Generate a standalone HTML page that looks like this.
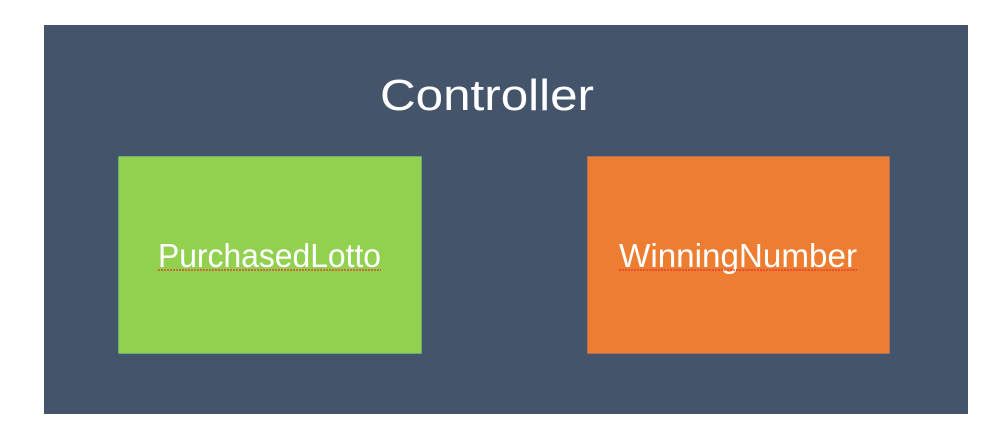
<!DOCTYPE html>
<html><head><meta charset="utf-8"><style>html,body{margin:0;padding:0;background:#fff;}svg{display:block}</style></head>
<body>
<svg width="1002" height="443" xmlns="http://www.w3.org/2000/svg" font-family="Liberation Sans, sans-serif">
<rect x="0" y="0" width="1002" height="443" fill="#fff"/>
<rect x="44" y="25" width="924" height="389" fill="#44546a"/>
<text x="380" y="110" font-size="44" fill="#fff" textLength="214" lengthAdjust="spacingAndGlyphs">Controller</text>
<rect x="118" y="156" width="304" height="198" fill="#92d050" stroke="#2f5597" stroke-width="0.6"/>
<rect x="587" y="156" width="303" height="198" fill="#ed7d31" stroke="#2f5597" stroke-width="0.6"/>
<text x="158" y="267" font-size="33" fill="#fff" textLength="223" lengthAdjust="spacingAndGlyphs">PurchasedLotto</text>
<text x="619" y="267" font-size="33" fill="#fff" textLength="238" lengthAdjust="spacingAndGlyphs">WinningNumber</text>
<line x1="158" y1="270" x2="381" y2="270" stroke="#e83030" stroke-width="1.2" stroke-dasharray="2 1"/>
<line x1="619" y1="270" x2="857" y2="270" stroke="#e83030" stroke-width="1.2" stroke-dasharray="2 1"/>
</svg>
</body></html>
